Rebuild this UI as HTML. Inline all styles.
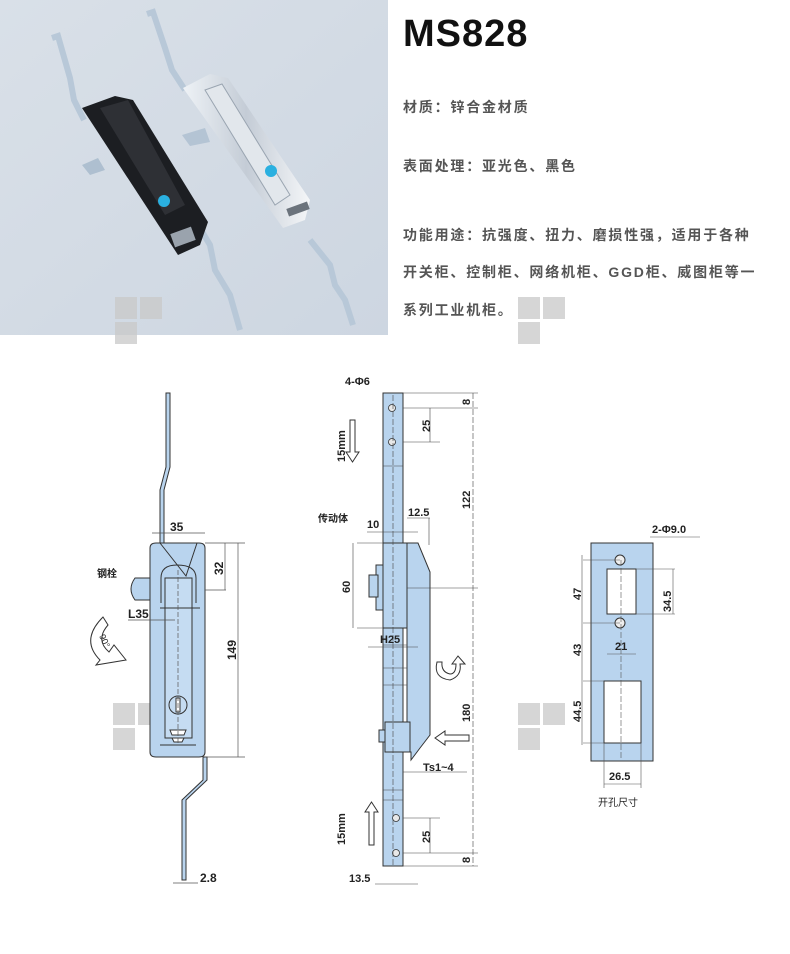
<!DOCTYPE html>
<html><head><meta charset="utf-8"><style>
html,body{margin:0;padding:0;background:#fff;width:790px;height:954px;overflow:hidden}
svg{display:block}
.t{font-family:"Liberation Sans","Noto Sans CJK SC",sans-serif}
</style></head><body>
<svg width="790" height="954" viewBox="0 0 790 954" xmlns="http://www.w3.org/2000/svg">
<defs>
<linearGradient id="bg" x1="0" y1="0" x2="1" y2="1"><stop offset="0" stop-color="#d9e0e8"/><stop offset="1" stop-color="#cdd6e1"/></linearGradient>
<linearGradient id="sil" x1="0" y1="0" x2="1" y2="0"><stop offset="0" stop-color="#eef2f6"/><stop offset="0.5" stop-color="#c4ccd6"/><stop offset="1" stop-color="#f4f6f8"/></linearGradient>
</defs>
<rect x="0" y="0" width="388" height="335" fill="url(#bg)"/>
<path d="M52 38 L58 36 L70 78 L74 100 L84 120" stroke="#b8c8d8" stroke-width="6" fill="none"/>
<path d="M195 220 L210 245 L215 270 L230 295 L240 330" stroke="#b8c8d8" stroke-width="6" fill="none"/>
<path d="M82 165 L98 158 L105 170 L90 175 Z" fill="#aebfd0"/>
<path d="M82 108 L115 96 L133 100 L208 222 L200 245 L178 255 Z" fill="#1c1e22"/>
<path d="M100 108 L128 100 L185 205 L165 215 Z" fill="#2e3035"/>
<circle cx="164" cy="201" r="6" fill="#2ab0e0"/>
<rect x="172" y="230" width="22" height="14" fill="#9aa3ad" transform="rotate(-20 183 237)"/>
<path d="M147 14 L153 12 L165 48 L172 70 L185 90" stroke="#b8c8d8" stroke-width="6" fill="none"/>
<path d="M310 240 L330 265 L335 285 L345 300 L353 325" stroke="#b8c8d8" stroke-width="6" fill="none"/>
<path d="M182 135 L205 128 L210 142 L190 146 Z" fill="#b4c4d4"/>
<path d="M183 88 L210 74 L228 78 L310 200 L305 220 L283 228 Z" fill="url(#sil)"/>
<path d="M205 90 L222 84 L290 195 L275 205 Z" fill="#e2e7ec" stroke="#9aa5b1"/>
<circle cx="271" cy="171" r="6" fill="#2ab0e0"/>
<rect x="287" y="205" width="22" height="8" fill="#6b737c" transform="rotate(-20 298 209)"/>
<g fill="#c9c9c9" opacity="0.75">
<rect x="115" y="297" width="22" height="22"/><rect x="140" y="297" width="22" height="22"/><rect x="115" y="322" width="22" height="22"/>
<rect x="518" y="297" width="22" height="22"/><rect x="543" y="297" width="22" height="22"/><rect x="518" y="322" width="22" height="22"/>
<rect x="113" y="703" width="22" height="22"/><rect x="138" y="703" width="22" height="22"/><rect x="113" y="728" width="22" height="22"/>
<rect x="518" y="703" width="22" height="22"/><rect x="543" y="703" width="22" height="22"/><rect x="518" y="728" width="22" height="22"/>
</g>
<text x="403" y="46" class="t" font-size="38" font-weight="bold" fill="#111" letter-spacing="1">MS828</text>
<g class="t" font-size="14" fill="#555" letter-spacing="1.8" font-weight="bold">
<text x="403" y="112">材质：锌合金材质</text>
<text x="403" y="171">表面处理：亚光色、黑色</text>
<text x="403" y="240">功能用途：抗强度、扭力、磨损性强，适用于各种</text>
<text x="403" y="277">开关柜、控制柜、网络机柜、GGD柜、威图柜等一</text>
<text x="403" y="315">系列工业机柜。</text>
</g>

<g stroke="#333" stroke-width="1" fill="#b9d4ee">
<path d="M166 393 L170 393 L170 467 L164 490 L164 543 L160 543 L160 490 L166 467 Z"/>
<path d="M203 757 L207 757 L207 780 L186 800 L186 880 L182 880 L182 800 L203 780 Z"/>
<path d="M150 578 L135 578 Q127 589 135 600 L150 600 Z"/>
<path d="M150 548 Q150 543 156 543 L199 543 Q205 543 205 548 L205 752 Q205 757 199 757 L156 757 Q150 757 150 752 Z"/>
<path d="M160 543 L186 576 L197 543" fill="none"/>
<path d="M161 603 L161 578 Q161 565 177 565 Q196 565 196 578 L196 603" fill="none"/>
<rect x="165" y="578" width="27" height="160" fill="#c5dcf2"/>
<path d="M160 608 L200 608" fill="none"/>
<circle cx="178" cy="705" r="9" fill="#c5dcf2"/>
<rect x="176" y="698" width="4" height="14" fill="#fff"/>
<path d="M170 730 L186 730 L184 735 L172 735 Z M172 738 L184 738 L182 742 L174 742 Z" fill="#fff"/>
<path d="M160 745 L196 745" fill="none"/>
</g>
<g stroke="#555" stroke-width="0.7" fill="none">
<line x1="178" y1="570" x2="178" y2="745" stroke-dasharray="5 2"/>
<line x1="152" y1="533" x2="205" y2="533"/>
<line x1="205" y1="543" x2="245" y2="543"/><line x1="205" y1="590" x2="226" y2="590"/><line x1="205" y1="757" x2="245" y2="757"/>
<line x1="225" y1="543" x2="225" y2="590"/><line x1="238" y1="543" x2="238" y2="757"/>
<line x1="128" y1="620" x2="175" y2="620"/>
<line x1="173" y1="883" x2="198" y2="883"/>
</g>
<g class="t" font-size="12" fill="#222" font-weight="bold">
<text x="170" y="531">35</text>
<text x="97" y="577" font-size="10">钢栓</text>
<text x="128" y="618">L35</text>
<text x="200" y="882">2.8</text>
<text transform="translate(223 575) rotate(-90)">32</text>
<text transform="translate(236 660) rotate(-90)">149</text>
</g>
<path d="M103 617 Q80 640 100 660 L96 665 L126 660 L114 645 L109 652 Q95 640 108 625 Z" fill="#fff" stroke="#333"/>
<text class="t" font-size="9" fill="#222" transform="translate(99 636) rotate(65)">90°</text>

<g stroke="#333" stroke-width="1" fill="#b9d4ee">
<rect x="383" y="393" width="20" height="473"/>
<path d="M407 543 L418 543 L430 572 L430 735 L420 748 L411 760 L411 752 L407 752 Z"/>
<rect x="383" y="543" width="24" height="85"/>
<rect x="376" y="565" width="7" height="45"/>
<rect x="369" y="575" width="9" height="22"/>
<rect x="385" y="722" width="25" height="30"/>
<rect x="379" y="730" width="6" height="12"/>
</g>
<g fill="#e8e8e8" stroke="#333" stroke-width="0.8">
<circle cx="392" cy="408" r="3.5"/><circle cx="392" cy="442" r="3.5"/>
<circle cx="396" cy="818" r="3.5"/><circle cx="396" cy="853" r="3.5"/>
</g>
<g stroke="#444" stroke-width="0.6" fill="none">
<line x1="383" y1="466" x2="403" y2="466"/><line x1="383" y1="645" x2="407" y2="645"/><line x1="383" y1="668" x2="407" y2="668"/><line x1="383" y1="685" x2="407" y2="685"/>
<line x1="383" y1="790" x2="403" y2="790"/><line x1="383" y1="800" x2="403" y2="800"/>
<line x1="393" y1="395" x2="393" y2="866" stroke-dasharray="6 2"/>
<line x1="473" y1="393" x2="473" y2="866" stroke-dasharray="6 2"/>
<line x1="403" y1="393" x2="478" y2="393"/><line x1="403" y1="408" x2="478" y2="408"/><line x1="403" y1="442" x2="440" y2="442"/>
<line x1="430" y1="408" x2="430" y2="442"/>
<line x1="407" y1="588" x2="478" y2="588"/>
<line x1="357" y1="543" x2="383" y2="543"/><line x1="357" y1="628" x2="383" y2="628"/><line x1="353" y1="543" x2="353" y2="628"/>
<line x1="367" y1="532" x2="418" y2="532"/><line x1="407" y1="518" x2="430" y2="518"/><line x1="429" y1="518" x2="429" y2="545"/>
<line x1="368" y1="647" x2="418" y2="647"/>
<line x1="403" y1="772" x2="467" y2="772"/>
<line x1="403" y1="818" x2="440" y2="818"/><line x1="403" y1="853" x2="478" y2="853"/><line x1="403" y1="866" x2="478" y2="866"/>
<line x1="430" y1="818" x2="430" y2="853"/>
<line x1="375" y1="884" x2="418" y2="884"/>
</g>
<path d="M350 420 L355 420 L355 452 L359 452 L352.5 462 L346 452 L350 452 Z" fill="#fff" stroke="#333"/>
<path d="M369 845 L374 845 L374 812 L378 812 L371.5 802 L365 812 L369 812 Z" fill="#fff" stroke="#333"/>
<path d="M469 735 L445 735 L445 731 L435 738 L445 745 L445 741 L469 741 Z" fill="#fff" stroke="#333"/>
<path d="M437 662 Q433 678 450 680 Q462 676 460 664 L465 664 L458 656 L452 664 L456 664 Q456 674 450 674 Q441 672 442 662 Z" fill="#fff" stroke="#333"/>
<g class="t" font-size="11" fill="#222" font-weight="bold">
<text x="345" y="385">4-Φ6</text>
<text x="318" y="522" font-size="10">传动体</text>
<text x="408" y="516">12.5</text>
<text x="367" y="528">10</text>
<text x="380" y="643">H25</text>
<text x="423" y="771">Ts1~4</text>
<text x="349" y="882">13.5</text>
<text transform="translate(470 405) rotate(-90)">8</text>
<text transform="translate(430 432) rotate(-90)">25</text>
<text transform="translate(470 509) rotate(-90)">122</text>
<text transform="translate(350 593) rotate(-90)">60</text>
<text transform="translate(470 722) rotate(-90)">180</text>
<text transform="translate(430 843) rotate(-90)">25</text>
<text transform="translate(470 863) rotate(-90)">8</text>
<text transform="translate(345 462) rotate(-90)">15mm</text>
<text transform="translate(345 845) rotate(-90)">15mm</text>
</g>

<rect x="591" y="543" width="62" height="218" fill="#b9d4ee" stroke="#333"/>
<rect x="607" y="569" width="29" height="45" fill="#fff" stroke="#333"/>
<rect x="604" y="681" width="37" height="62" fill="#fff" stroke="#333"/>
<circle cx="620" cy="560" r="5" fill="#eee" stroke="#333"/>
<circle cx="620" cy="623" r="5" fill="#eee" stroke="#333"/>
<g stroke="#555" stroke-width="0.6" fill="none">
<line x1="621" y1="560" x2="621" y2="760" stroke-dasharray="6 2"/>
<line x1="583" y1="560" x2="620" y2="560"/><line x1="583" y1="623" x2="620" y2="623"/>
<line x1="583" y1="681" x2="604" y2="681"/><line x1="583" y1="743" x2="604" y2="743"/>
<line x1="582" y1="555" x2="582" y2="745"/>
<line x1="636" y1="569" x2="675" y2="569"/><line x1="636" y1="614" x2="675" y2="614"/>
<line x1="673" y1="569" x2="673" y2="614"/>
<line x1="607" y1="654" x2="636" y2="654"/>
<line x1="604" y1="784" x2="641" y2="784"/><line x1="604" y1="743" x2="604" y2="788"/><line x1="641" y1="743" x2="641" y2="788"/>
<line x1="650" y1="537" x2="700" y2="537"/>
</g>
<g class="t" font-size="11" fill="#222" font-weight="bold">
<text x="652" y="533">2-Φ9.0</text>
<text x="615" y="650">21</text>
<text x="609" y="780">26.5</text>
<text x="598" y="806" font-size="10" font-weight="normal">开孔尺寸</text>
<text transform="translate(581 600) rotate(-90)">47</text>
<text transform="translate(671 612) rotate(-90)">34.5</text>
<text transform="translate(581 656) rotate(-90)">43</text>
<text transform="translate(581 722) rotate(-90)">44.5</text>
</g>
</svg>
</body></html>
